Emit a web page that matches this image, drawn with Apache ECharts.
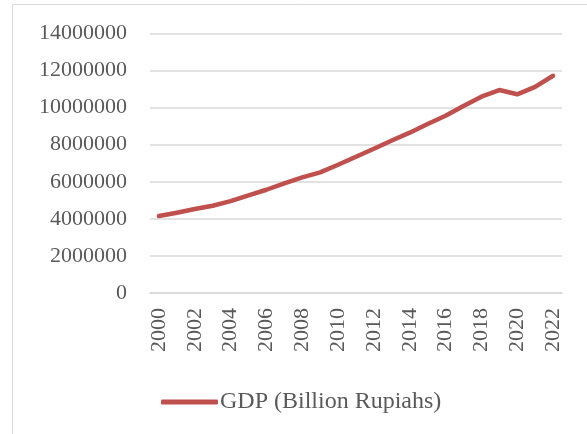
<!DOCTYPE html>
<html>
<head>
<meta charset="utf-8">
<script src="https://cdn.jsdelivr.net/npm/echarts@6/dist/echarts.min.js"></script>
<style>
  html, body { margin: 0; padding: 0; background: #fff; }
  #chart { width: 587px; height: 434px; }
</style>
</head>
<body>
<div id="chart"></div>
<script>
// years on the x axis
const years = ['2000', '2001', '2002', '2003', '2004', '2005', '2006', '2007', '2008', '2009',
  '2010', '2011', '2012', '2013', '2014', '2015', '2016', '2017', '2018', '2019',
  '2020', '2021', '2022']

// GDP, billion rupiahs
const gdp = [4150000, 4330000, 4530000, 4710000, 4960000, 5270000, 5570000, 5920000, 6240000, 6510000,
  6920000, 7350000, 7780000, 8230000, 8650000, 9120000, 9560000, 10090000, 10590000, 10950000,
  10720000, 11120000, 11720000]

const seriesName = 'GDP (Billion Rupiahs)'
const lineColor = '#C0504D'
const textColor = '#595959'
const font = 'Liberation Serif'

const chart = echarts.init(document.getElementById('chart'))

chart.setOption({
  animation: false,
  // light frame round the chart, as in the source image
  graphic: [{
    type: 'rect',
    shape: { x: 12.5, y: 4.5, width: 620, height: 460 },
    style: { fill: 'none', stroke: '#D9D9D9', lineWidth: 1 },
    silent: true
  }],
  grid: { left: 150, right: 25, top: 33.5, bottom: 141, containLabel: false },
  legend: {
    data: [seriesName],
    left: 156,
    top: 385,
    icon: 'roundRect',
    itemWidth: 57,
    itemHeight: 5,
    textStyle: { fontFamily: font, fontSize: 24, color: textColor, padding: [0, 0, 0, -3] }
  },
  xAxis: {
    type: 'category',
    data: years,
    boundaryGap: true,
    axisLine: { lineStyle: { color: '#D9D9D9', width: 1.5 } },
    axisTick: { show: false },
    axisLabel: {
      interval: 1,
      rotate: 90,
      margin: 15,
      fontFamily: font,
      fontSize: 22,
      color: textColor
    }
  },
  yAxis: {
    type: 'value',
    min: 0,
    max: 14000000,
    interval: 2000000,
    axisLine: { show: false },
    axisTick: { show: false },
    splitLine: { lineStyle: { color: '#D9D9D9', width: 1.5 } },
    axisLabel: {
      margin: 23,
      fontFamily: font,
      fontSize: 22,
      color: textColor,
      formatter: (v) => String(v)
    }
  },
  series: [{
    name: seriesName,
    type: 'line',
    data: gdp,
    showSymbol: false,
    symbol: 'none',
    lineStyle: { color: lineColor, width: 4.5, cap: 'round', join: 'round' },
    itemStyle: { color: lineColor }
  }]
})
</script>
</body>
</html>
